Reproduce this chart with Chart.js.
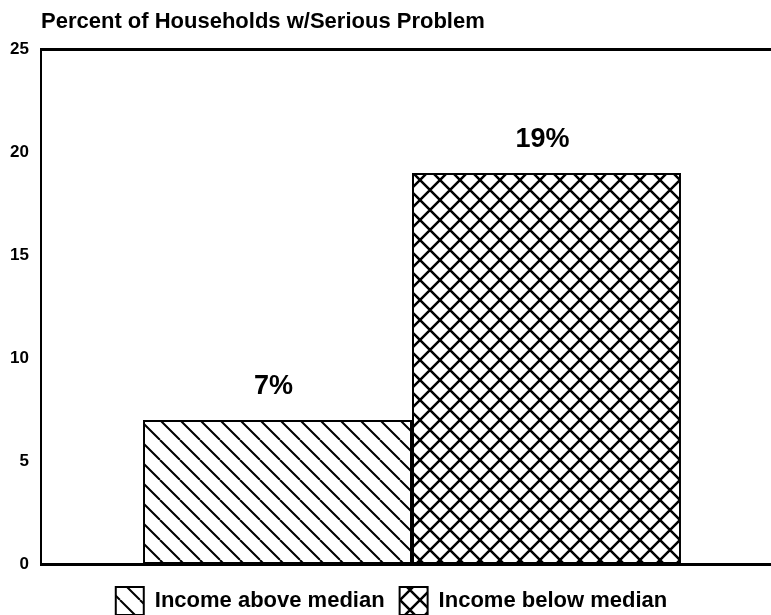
<!DOCTYPE html>
<html>
<head>
<meta charset="utf-8">
<script src="https://cdn.jsdelivr.net/npm/chart.js@4"></script>
<style>
  html, body { margin: 0; padding: 0; background: #fff; overflow: hidden; }
  #wrap { position: relative; width: 783px; height: 615px; }
</style>
</head>
<body>
<div id="wrap"><canvas id="householdChart"></canvas></div>
<script>
// 데이터
const groupLabels = ["Income above median", "Income below median"];
const percentValues = [7, 19];
const yTicks = [0, 5, 10, 15, 20, 25];
const chartTitle = "Percent of Households w/Serious Problem";

const FONT = "'Liberation Sans', Arial, sans-serif";

// 해칭 패턴 만들기
function makeHatch(cross) {
  const s = 20;
  const c = document.createElement("canvas");
  c.width = s;
  c.height = s;
  const g = c.getContext("2d");
  g.fillStyle = "#fff";
  g.fillRect(0, 0, s, s);
  g.strokeStyle = "#000";
  g.lineWidth = cross ? 2.5 : 2;
  g.beginPath();
  for (const off of [-s, 0, s]) {
    g.moveTo(off, 0);
    g.lineTo(off + s, s);
    if (cross) {
      g.moveTo(off, s);
      g.lineTo(off + s, 0);
    }
  }
  g.stroke();
  return g.createPattern(c, "repeat");
}

const patterns = [makeHatch(false), makeHatch(true)];

// 막대 위에 값 표시
const valueLabels = {
  id: "valueLabels",
  afterDatasetsDraw(chart) {
    const ctx = chart.ctx;
    ctx.save();
    ctx.fillStyle = "#000";
    ctx.font = "bold 27px " + FONT;
    ctx.textAlign = "center";
    ctx.textBaseline = "middle";
    chart.data.datasets.forEach((ds, i) => {
      const bar = chart.getDatasetMeta(i).data[0];
      ctx.fillText(ds.data[0] + "%", bar.x - 4, bar.y - 33);
    });
    ctx.restore();
  },
};

new Chart(document.getElementById("householdChart"), {
  type: "bar",
  data: {
    labels: [""],
    datasets: groupLabels.map((label, i) => ({
      label: label,
      data: [percentValues[i]],
      backgroundColor: patterns[i],
      borderColor: "#000",
      borderWidth: 2,
      borderSkipped: false,
      categoryPercentage: 0.725,
      barPercentage: 1,
    })),
  },
  options: {
    responsive: true,
    maintainAspectRatio: false,
    animation: false,
    layout: { padding: { top: 0, right: 0, bottom: -10, left: 0 } },
    scales: {
      x: {
        grid: { display: false },
        ticks: { display: false },
        border: { display: true, color: "#000", width: 3 },
      },
      xTop: {
        type: "category",
        labels: [""],
        position: "top",
        grid: { display: false },
        ticks: { display: false },
        border: { display: true, color: "#000", width: 3 },
      },
      y: {
        min: 0,
        max: 25,
        afterBuildTicks: (scale) => {
          scale.ticks = yTicks.map((v) => ({ value: v }));
        },
        afterFit: (scale) => {
          scale.width = 41;
        },
        grid: { display: false },
        ticks: {
          color: "#000",
          padding: 4,
          font: { family: FONT, size: 17, weight: "bold" },
        },
        border: { display: true, color: "#000", width: 2 },
      },
    },
    plugins: {
      title: {
        display: true,
        text: chartTitle,
        align: "start",
        fullSize: false,
        color: "#000",
        font: { family: FONT, size: 22, weight: "bold" },
        padding: { top: 9, bottom: 6 },
      },
      legend: {
        position: "bottom",
        labels: {
          color: "#000",
          boxWidth: 28,
          boxHeight: 28,
          padding: 15,
          font: { family: FONT, size: 22, weight: "bold" },
        },
      },
      tooltip: { enabled: false },
    },
  },
  plugins: [valueLabels],
});
</script>
</body>
</html>
